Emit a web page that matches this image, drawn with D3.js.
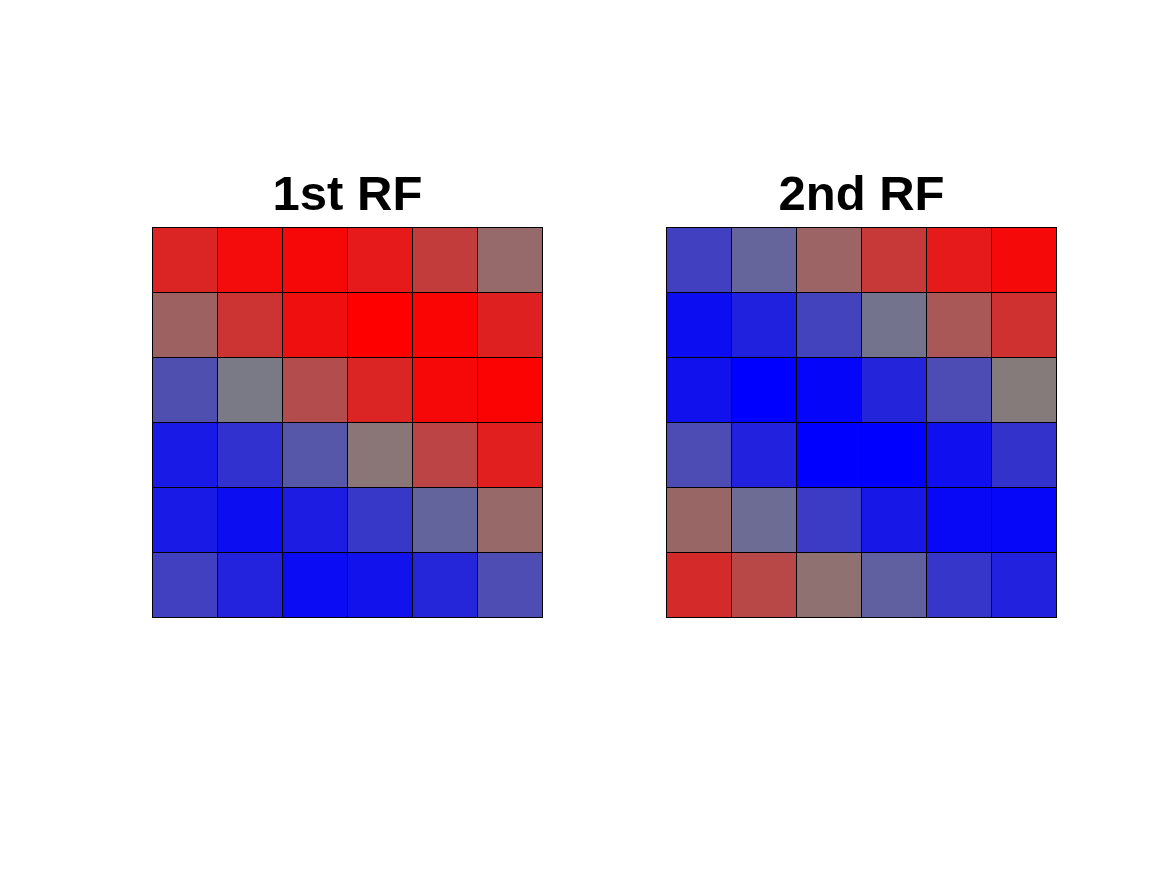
<!DOCTYPE html>
<html>
<head>
<meta charset="utf-8">
<script src="https://cdn.jsdelivr.net/npm/d3@7"></script>
<style>
  body { margin: 0; background: #fff; }
  svg { display: block; }
  .title { font-family: "Liberation Sans", Arial, sans-serif; font-weight: bold; font-size: 49px; }
</style>
</head>
<body>
<svg width="1167" height="875"></svg>
<script>
// cell values, -1 = blue, 0 = gray, 1 = red (row by row, top to bottom)
const rf1 = [
	[0.72, 0.91, 0.94, 0.80, 0.53, 0.17],
	[0.24, 0.60, 0.88, 1.00, 0.97, 0.75],
	[-0.38, -0.05, 0.40, 0.72, 0.94, 0.98],
	[-0.80, -0.62, -0.32, 0.08, 0.47, 0.76],
	[-0.80, -0.90, -0.78, -0.57, -0.22, 0.18],
	[-0.50, -0.73, -0.91, -0.86, -0.71, -0.40]
];
const rf2 = [
	[-0.50, -0.21, 0.22, 0.56, 0.80, 0.93],
	[-0.90, -0.75, -0.48, -0.10, 0.32, 0.62],
	[-0.87, -1.00, -0.96, -0.72, -0.41, 0.04],
	[-0.41, -0.74, -1.00, -1.00, -0.88, -0.60],
	[0.20, -0.16, -0.54, -0.82, -0.94, -0.95],
	[0.67, 0.44, 0.12, -0.25, -0.58, -0.74]
];
const titles = ['1st RF', '2nd RF'];
const panelX = [152.5, 666.5];

let svg = d3.select("svg");
const panelTop = 227.5, size = 390;

const color = d3.scaleLinear()
	.domain([-1, 0, 1])
	.range(["#0000ff", "#808080", "#ff0000"]);

const idx = d3.range(6);

[rf1, rf2].forEach(function(grid, p) {
	const x = d3.scaleBand().domain(idx).range([panelX[p], panelX[p] + size]);
	const y = d3.scaleBand().domain(idx).range([panelTop, panelTop + size]);

	let cells = [];
	grid.forEach((row, r) => row.forEach((v, c) => cells.push({ r: r, c: c, v: v })));

	const g = svg.append("g");

	g.selectAll("rect")
		.data(cells)
		.enter().append("rect")
			.attr("x", d => x(d.c))
			.attr("y", d => y(d.r))
			.attr("width", x.bandwidth())
			.attr("height", y.bandwidth())
			.attr("fill", d => color(d.v))
			.attr("stroke", "#000")
			.attr("stroke-width", 1);

	g.append("text")
		.attr("class", "title")
		.attr("x", panelX[p] + size / 2)
		.attr("y", 210)
		.attr("text-anchor", "middle")
		.text(titles[p]);
});
</script>
</body>
</html>
